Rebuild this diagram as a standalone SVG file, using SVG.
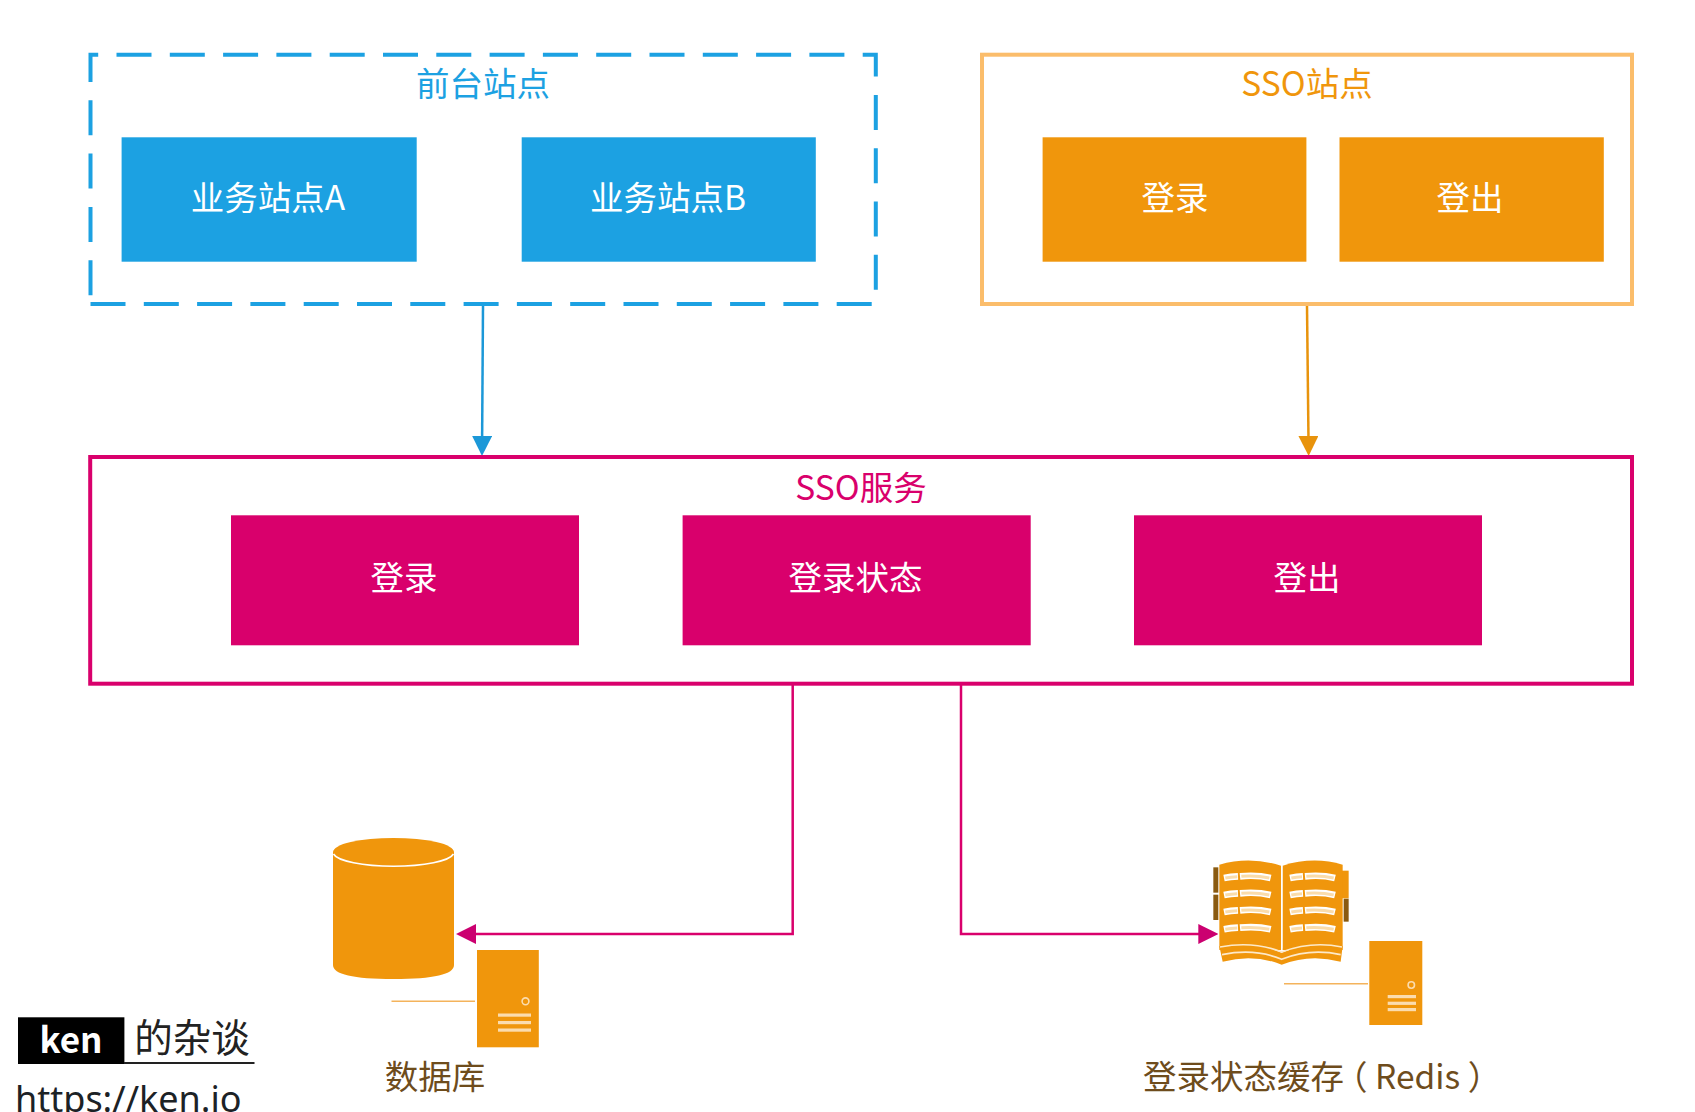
<svg xmlns="http://www.w3.org/2000/svg" xmlns:xlink="http://www.w3.org/1999/xlink" width="1695" height="1112" viewBox="0 0 1695 1112">
<style>
text{font-family:"Noto Sans CJK SC","Noto Sans",sans-serif;text-anchor:middle}
.t{font-size:33.5px}
.w{fill:#fff}
.blue{fill:#1ca1e2}.orange{fill:#f0960c}.pink{fill:#d9006c}
.conn{fill:none;stroke-width:2.5}
.leader{stroke:#f4b35c;stroke-width:1.6;fill:none}
.bar{fill:#fbdcae}
.brown{fill:#6e4c1c}
.strip{fill:none;stroke:#fff;stroke-width:20}
.stripin{fill:none;stroke:#fadcaa;stroke-width:9}
</style>
<defs>
<marker id="mb" markerUnits="userSpaceOnUse" viewBox="0 0 20 20" markerWidth="20" markerHeight="20" refX="5" refY="10" orient="auto"><path d="M0 0L20 10L0 20Z" fill="#1c98d8"/></marker>
<marker id="mo" markerUnits="userSpaceOnUse" viewBox="0 0 20 20" markerWidth="20" markerHeight="20" refX="5" refY="10" orient="auto"><path d="M0 0L20 10L0 20Z" fill="#e8930c"/></marker>
<marker id="mp" markerUnits="userSpaceOnUse" viewBox="0 0 20 20" markerWidth="20" markerHeight="20" refX="5" refY="10" orient="auto"><path d="M0 0L20 10L0 20Z" fill="#cb0070"/></marker>
<g id="row">
<path class="strip" d="M372 6Q392 2 414 1M420 1Q470 -4 512 6"/>
<path class="stripin" d="M376 6Q392 3 412 2M424 1Q470 -2 508 6"/>
<path class="strip" d="M570 6Q590 2 609 1M615 1Q665 -4 705 6"/>
<path class="stripin" d="M574 6Q590 3 606 2M619 1Q665 -2 701 6"/>
</g>
</defs>
<rect width="1695" height="1112" fill="#fff"/>

<g id="connectors">
<path class="conn" stroke="#1c98d8" d="M483 306L482.1 441" marker-end="url(#mb)"/>
<path class="conn" stroke="#e8930c" d="M1307 306L1308.5 441" marker-end="url(#mo)"/>
<path class="conn" stroke="#d9006c" d="M792.7 685V934H471" marker-end="url(#mp)"/>
<path class="conn" stroke="#d9006c" d="M961 685V934H1203.3" marker-end="url(#mp)"/>
</g>

<g id="frontend-sites">
<path d="M90.5 304H875.8V54.7H90.5Z" fill="none" stroke="#1ca1e2" stroke-width="4" stroke-dasharray="35 18.3"/>
<text class="t" x="483" y="96" fill="#1ca1e2">前台站点</text>
</g>
<g id="site-a"><rect class="blue" x="121.6" y="137.3" width="295.1" height="124.4"/><text class="t w" x="268" y="210">业务站点A</text></g>
<g id="site-b"><rect class="blue" x="521.7" y="137.3" width="294.1" height="124.4"/><text class="t w" x="668" y="210">业务站点B</text></g>

<g id="sso-site">
<rect x="982" y="54.7" width="650" height="249.3" fill="none" stroke="#fbbd6b" stroke-width="4"/>
<text class="t" x="1307" y="96" fill="#f0960c">SSO站点</text>
</g>
<g id="site-login"><rect class="orange" x="1042.6" y="137.3" width="263.8" height="124.4"/><text class="t w" x="1175" y="210">登录</text></g>
<g id="site-logout"><rect class="orange" x="1339.5" y="137.3" width="264.3" height="124.4"/><text class="t w" x="1470" y="210">登出</text></g>

<g id="sso-service">
<rect x="90.2" y="457" width="1541.8" height="226.7" fill="none" stroke="#d9006c" stroke-width="4"/>
<text class="t" x="861" y="500" fill="#d9006c">SSO服务</text>
</g>
<g id="svc-login"><rect class="pink" x="231" y="515.3" width="348" height="130"/><text class="t w" x="404" y="590">登录</text></g>
<g id="svc-status"><rect class="pink" x="682.6" y="515.3" width="348.1" height="130"/><text class="t w" x="855.5" y="590">登录状态</text></g>
<g id="svc-logout"><rect class="pink" x="1134" y="515.3" width="348" height="130"/><text class="t w" x="1307" y="590">登出</text></g>

<g id="database">
<path class="orange" d="M333 852V965Q333 979 393.5 979T454 965V852Z"/>
<ellipse class="orange" cx="393.5" cy="852" rx="60.5" ry="14"/>
<path d="M333.5 854A60.5 14 0 0 0 453.5 854" fill="none" stroke="#fff" stroke-width="1.6"/>
<path class="leader" d="M391.5 1001.3H475"/>
<rect class="orange" x="477" y="950" width="61.8" height="97.3"/>
<circle cx="525.5" cy="1001.3" r="3.4" fill="none" stroke="#fbdcae" stroke-width="1.6"/>
<rect class="bar" x="498" y="1013.5" width="33" height="3.2"/>
<rect class="bar" x="498" y="1021" width="33" height="3.2"/>
<rect class="bar" x="498" y="1028.5" width="33" height="3.2"/>
<text class="t brown" x="435" y="1088.5">数据库</text>
</g>

<g id="cache">
<g transform="translate(1100 820) scale(.33333)">
<rect x="340" y="142" width="15" height="76" fill="#8a5a10"/>
<rect x="340" y="224" width="15" height="76" fill="#8a5a10"/>
<rect x="731" y="236" width="15" height="69" fill="#8a5a10"/>
<path class="orange" d="M725 152H746V235H725Z"/>
<path class="orange" d="M358 134Q450 108 543 137V390H358Z"/>
<path class="orange" d="M548 137Q640 108 728 134V390H548Z"/>
<path class="orange" d="M358 378Q450 362 545 398Q640 362 728 378L722 425Q630 400 545 434Q460 400 368 425Z"/>
<path d="M360 381Q460 362 545 396Q635 362 726 381" fill="none" stroke="#fde9c9" stroke-width="5"/>
<path d="M366 404Q465 384 545 418Q630 384 722 404" fill="none" stroke="#fde9c9" stroke-width="5"/>
<path d="M545 137V385" fill="none" stroke="#fff" stroke-width="4"/>
<use href="#row" xlink:href="#row" x="0" y="168"/>
<use href="#row" xlink:href="#row" x="0" y="219"/>
<use href="#row" xlink:href="#row" x="0" y="270"/>
<use href="#row" xlink:href="#row" x="0" y="322"/>
</g>
<path class="leader" d="M1284 983.7H1368"/>
<rect class="orange" x="1369.3" y="941" width="53" height="84"/>
<circle cx="1411.3" cy="985" r="3.2" fill="none" stroke="#fbdcae" stroke-width="1.6"/>
<rect class="bar" x="1387.7" y="995" width="28.3" height="3.2"/>
<rect class="bar" x="1387.7" y="1001.7" width="28.3" height="3.2"/>
<rect class="bar" x="1387.7" y="1008" width="28.3" height="3.2"/>
<text class="t brown" x="1143" y="1088.5" style="text-anchor:start">登录状态缓存<tspan dx="-10">（ Redis ）</tspan></text>
</g>

<g id="watermark">
<rect x="18" y="1017.3" width="106.4" height="46.7" fill="#000"/>
<path d="M124 1063H254.5" stroke="#222" stroke-width="2" fill="none"/>
<text x="71" y="1053" fill="#fff" font-size="35" font-weight="700">ken</text>
<text x="192" y="1052" fill="#222" font-size="38.5">的杂谈</text>
<text x="15" y="1112" fill="#1c2226" font-size="36" style="text-anchor:start;font-family:'Noto Sans',sans-serif">https://ken.io</text>
</g>
</svg>
